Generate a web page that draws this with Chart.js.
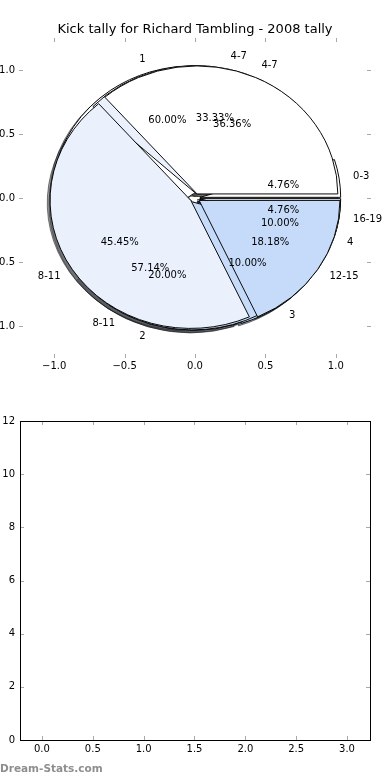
<!DOCTYPE html>
<html>
<head>
<meta charset="utf-8">
<script src="https://cdn.jsdelivr.net/npm/chart.js@4.4.0/dist/chart.umd.min.js"></script>
<style>
html, body { margin:0; padding:0; background:#fff; }
#wrap { position:relative; width:390px; height:780px; overflow:hidden; }
#wrap canvas { position:absolute; }
#mark { position:absolute; left:0; top:762px; font:bold 10.5px "DejaVu Sans"; color:#8e8e8e; }
</style>
</head>
<body>
<div id="wrap">
  <canvas id="pieA" width="390" height="396" style="left:0;top:0"></canvas>
  <canvas id="pieB" width="390" height="396" style="left:0;top:0"></canvas>
  <canvas id="pieC" width="390" height="396" style="left:0;top:0"></canvas>
  <canvas id="axTop" width="420" height="390" style="left:-30px;top:0"></canvas>
  <canvas id="axBottom" width="420" height="380" style="left:-30px;top:400px"></canvas>
  <div id="mark">Dream-Stats.com</div>
</div>
<script>
// ---- data ----
const titleText = 'Kick tally for Richard Tambling - 2008 tally';

const pieALabels = ['1', '2', '3', '4'];
const pieAValues = [6, 2, 1, 1];
const pieBLabels = ['0-3', '4-7', '8-11', '16-19'];
const pieBValues = [1, 7, 12, 1];
const pieCLabels = ['4-7', '8-11', '12-15'];
const pieCValues = [4, 5, 2];

const pieColors = ['#ffffff', '#eaf1fd', '#c6dbfa'];

const topTicks = [-1, -0.5, 0, 0.5, 1];
const bottomXTicks = [0, 0.5, 1, 1.5, 2, 2.5, 3];
const bottomYTicks = [0, 2, 4, 6, 8, 10, 12];

// ---- geometry (matplotlib look) ----
const FONT = '"DejaVu Sans", sans-serif';
const R = 140.8;            // pie radius in px (x direction)
const SY = 128 / 140.8;     // axes are not square -> ellipse
const EXU = 0.035;          // explode, in radius units
const EXPLODE = EXU * R;
const SH_DX = -0.02 * R, SH_DY = 0.02 * R; // shadow offset (before y scale)

const pieCharts = [];

// draws the arcs ourselves: ellipse squash, explode, shadow under everything
const pieDraw = {
  id: 'pieDraw',
  beforeDatasetDraw(chart, args) {
    const ctx = chart.ctx;
    const arcs = args.meta.data;
    const cx = arcs[0].x, cy = arcs[0].y;
    ctx.save();
    ctx.translate(cx, cy); ctx.scale(1, SY); ctx.translate(-cx, -cy);
    if (chart.canvas.id === 'pieA') {
      pieCharts.forEach(pc => pc.getDatasetMeta(0).data.forEach(a => {
        const m = (a.startAngle + a.endAngle) / 2;
        ctx.save();
        ctx.translate(Math.cos(m) * EXPLODE + SH_DX, Math.sin(m) * EXPLODE + SH_DY);
        ctx.filter = 'brightness(0.3)';
        ctx.globalAlpha = 0.5;
        a.draw(ctx);
        ctx.restore();
      }));
    }
    arcs.forEach(a => {
      const m = (a.startAngle + a.endAngle) / 2;
      ctx.save();
      ctx.translate(Math.cos(m) * EXPLODE, Math.sin(m) * EXPLODE);
      a.draw(ctx);
      ctx.restore();
    });
    ctx.restore();
    return false;
  }
};

function makePie(id, labels, values) {
  // matplotlib goes counter-clockwise from east, Chart.js clockwise -> reverse
  const cols = values.map((v, i) => pieColors[i % pieColors.length]);
  return new Chart(document.getElementById(id), {
    type: 'pie',
    data: {
      labels: labels.slice().reverse(),
      datasets: [{
        data: values.slice().reverse(),
        backgroundColor: cols.reverse(),
        borderColor: '#000',
        borderWidth: 1,
        radius: R,
        rotation: 90
      }]
    },
    options: {
      responsive: false,
      animation: false,
      events: [],
      rotation: 90,
      layout: { padding: 0 },
      plugins: { legend: { display: false }, tooltip: { enabled: false } }
    },
    plugins: [pieDraw]
  });
}

pieCharts.push(makePie('pieA', pieALabels, pieAValues));
pieCharts.push(makePie('pieB', pieBLabels, pieBValues));
pieCharts.push(makePie('pieC', pieCLabels, pieCValues));
pieCharts[0].draw(); // redraw so all shadows sit under all pies

// ---- inward ticks like matplotlib ----
function drawInTicks(chart, color) {
  const { ctx, chartArea: a, scales: { x, y } } = chart;
  ctx.save();
  ctx.strokeStyle = color;
  ctx.lineWidth = 1;
  ctx.beginPath();
  x.ticks.forEach(t => {
    const px = Math.round(x.getPixelForValue(t.value)) + 0.5;
    ctx.moveTo(px, a.top); ctx.lineTo(px, a.top + 4);
    ctx.moveTo(px, a.bottom); ctx.lineTo(px, a.bottom - 4);
  });
  y.ticks.forEach(t => {
    const py = Math.round(y.getPixelForValue(t.value)) + 0.5;
    ctx.moveTo(a.left, py); ctx.lineTo(a.left + 4, py);
    ctx.moveTo(a.right, py); ctx.lineTo(a.right - 4, py);
  });
  ctx.stroke();
  ctx.restore();
}

const fmt1 = v => (v < 0 ? '\u2212' : '') + Math.abs(v).toFixed(1);
const noGrid = { display: false, drawTicks: false };

// ---- labels of all pies on top ----
const topDecor = {
  id: 'topDecor',
  afterDraw(chart) {
    drawInTicks(chart, '#a8a8a8');
    const { ctx, scales: { x, y } } = chart;
    const cx = x.getPixelForValue(0), cy = y.getPixelForValue(0);
    const rx = x.getPixelForValue(1) - cx, ry = cy - y.getPixelForValue(1);
    ctx.save();
    ctx.fillStyle = '#000';
    ctx.font = '10px ' + FONT;
    ctx.textBaseline = 'middle';
    pieCharts.forEach(pc => {
      const vals = pc.data.datasets[0].data;
      const total = vals.reduce((s, v) => s + v, 0);
      pc.getDatasetMeta(0).data.forEach((a, i) => {
        const m = (a.startAngle + a.endAngle) / 2;
        const c = Math.cos(m), s = Math.sin(m);
        ctx.textAlign = c > 0 ? 'left' : 'right';
        ctx.fillText(pc.data.labels[i], cx + c * (1.1 + EXU) * rx, cy + s * (1.1 + EXU) * ry);
        ctx.textAlign = 'center';
        ctx.fillText((vals[i] / total * 100).toFixed(2) + '%', cx + c * (0.6 + EXU) * rx, cy + s * (0.6 + EXU) * ry);
      });
    });
    ctx.restore();
  }
};

new Chart(document.getElementById('axTop'), {
  type: 'scatter',
  data: { datasets: [{ data: [] }] },
  options: {
    responsive: false,
    animation: false,
    events: [],
    layout: { padding: { right: 19 } },
    plugins: {
      legend: { display: false },
      tooltip: { enabled: false },
      title: {
        display: true, text: titleText, fullSize: false, color: '#000',
        font: { family: FONT, size: 13, weight: 'normal' },
        padding: { top: 22, bottom: 0.4 }
      }
    },
    scales: {
      x: {
        min: -1.25, max: 1.25,
        afterBuildTicks: s => { s.ticks = topTicks.map(v => ({ value: v })); },
        afterFit: s => { s.height = 32; },
        grid: noGrid, border: { display: false },
        ticks: { color: '#000', font: { family: FONT, size: 10 }, padding: 2, callback: fmt1, maxRotation: 0 }
      },
      y: {
        min: -1.25, max: 1.25,
        afterBuildTicks: s => { s.ticks = topTicks.map(v => ({ value: v })); },
        afterFit: s => { s.width = 49; },
        grid: noGrid, border: { display: false },
        ticks: { color: '#000', font: { family: FONT, size: 10 }, padding: 4, callback: fmt1 }
      }
    }
  },
  plugins: [topDecor]
});

// ---- empty bottom axes ----
const frame = {
  id: 'frame',
  afterDraw(chart) {
    drawInTicks(chart, '#a8a8a8');
    const { ctx, chartArea: a } = chart;
    ctx.save();
    ctx.strokeStyle = '#000';
    ctx.lineWidth = 1;
    ctx.strokeRect(Math.round(a.left) + 0.5, Math.round(a.top) + 0.5, Math.round(a.right - a.left), Math.round(a.bottom - a.top));
    ctx.restore();
  }
};

new Chart(document.getElementById('axBottom'), {
  type: 'scatter',
  data: { datasets: [{ data: [] }] },
  options: {
    responsive: false,
    animation: false,
    events: [],
    layout: { padding: { top: 21, right: 20 } },
    plugins: { legend: { display: false }, tooltip: { enabled: false } },
    scales: {
      x: {
        min: -0.216, max: 3.226,
        afterBuildTicks: s => { s.ticks = bottomXTicks.map(v => ({ value: v })); },
        afterFit: s => { s.height = 40; },
        grid: noGrid, border: { display: false },
        ticks: { color: '#000', font: { family: FONT, size: 10 }, padding: 3, callback: fmt1, maxRotation: 0 }
      },
      y: {
        min: 0, max: 12,
        afterBuildTicks: s => { s.ticks = bottomYTicks.map(v => ({ value: v })); },
        afterFit: s => { s.width = 50; },
        grid: noGrid, border: { display: false },
        ticks: { color: '#000', font: { family: FONT, size: 10 }, padding: 5, callback: v => String(v) }
      }
    }
  },
  plugins: [frame]
});
</script>
</body>
</html>
